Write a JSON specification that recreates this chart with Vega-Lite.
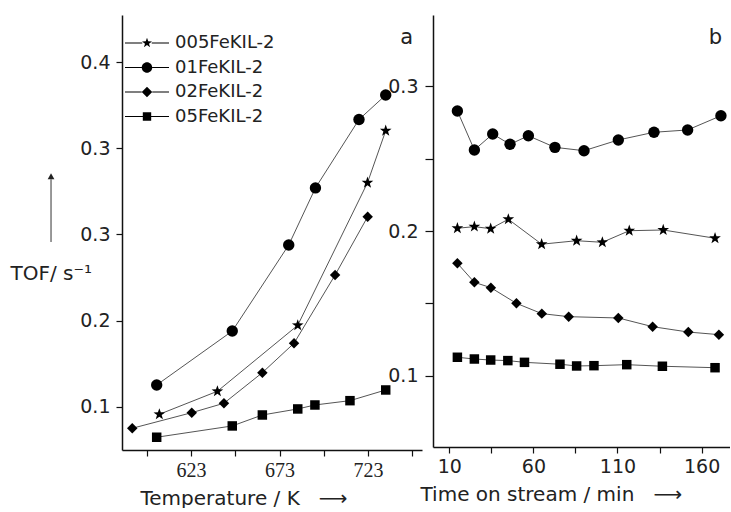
{
  "$schema": "https://vega.github.io/schema/vega-lite/v6.json",
  "autosize": {"type": "pad"},
  "padding": {"left": 10, "top": 15, "right": 0, "bottom": 0},
  "background": "white",
  "spacing": 11,
  "bounds": "flush",
  "config": {
    "view": {"stroke": null},
    "axis": {
      "grid": false, "domainColor": "#111", "domainWidth": 1.5, "tickColor": "#111", "tickWidth": 1.2, "tickSize": 6,
      "labelFont": "DejaVu Sans", "labelFontSize": 19, "labelColor": "#222", "labelPadding": 6,
      "titleFont": "DejaVu Sans", "titleFontSize": 20, "titleFontWeight": "normal", "titleColor": "#222",
      "labelFlush": false, "labelOverlap": false
    }
  },
  "datasets": {
    "tempData": [
      {"series": "005FeKIL-2", "T": 605.1, "TOF": 0.0915},
      {"series": "005FeKIL-2", "T": 637.9, "TOF": 0.1182},
      {"series": "005FeKIL-2", "T": 683.3, "TOF": 0.1947},
      {"series": "005FeKIL-2", "T": 722.7, "TOF": 0.360},
      {"series": "005FeKIL-2", "T": 733.0, "TOF": 0.4203},
      {"series": "01FeKIL-2", "T": 603.6, "TOF": 0.1255},
      {"series": "01FeKIL-2", "T": 646.3, "TOF": 0.188},
      {"series": "01FeKIL-2", "T": 678.2, "TOF": 0.2878},
      {"series": "01FeKIL-2", "T": 693.3, "TOF": 0.354},
      {"series": "01FeKIL-2", "T": 717.9, "TOF": 0.4333},
      {"series": "01FeKIL-2", "T": 733.0, "TOF": 0.4617},
      {"series": "02FeKIL-2", "T": 589.8, "TOF": 0.0753},
      {"series": "02FeKIL-2", "T": 623.4, "TOF": 0.0934},
      {"series": "02FeKIL-2", "T": 641.6, "TOF": 0.1043},
      {"series": "02FeKIL-2", "T": 663.3, "TOF": 0.1398},
      {"series": "02FeKIL-2", "T": 681.2, "TOF": 0.1739},
      {"series": "02FeKIL-2", "T": 704.4, "TOF": 0.253},
      {"series": "02FeKIL-2", "T": 722.8, "TOF": 0.3206},
      {"series": "05FeKIL-2", "T": 603.6, "TOF": 0.0649},
      {"series": "05FeKIL-2", "T": 646.3, "TOF": 0.078},
      {"series": "05FeKIL-2", "T": 663.3, "TOF": 0.0907},
      {"series": "05FeKIL-2", "T": 683.3, "TOF": 0.0977},
      {"series": "05FeKIL-2", "T": 693.0, "TOF": 0.1023},
      {"series": "05FeKIL-2", "T": 712.8, "TOF": 0.1073},
      {"series": "05FeKIL-2", "T": 733.0, "TOF": 0.1197}
    ],
    "timeData": [
      {"series": "01FeKIL-2", "t": 14.8, "TOF": 0.2828},
      {"series": "01FeKIL-2", "t": 24.9, "TOF": 0.2559},
      {"series": "01FeKIL-2", "t": 35.8, "TOF": 0.2669},
      {"series": "01FeKIL-2", "t": 46.1, "TOF": 0.2598},
      {"series": "01FeKIL-2", "t": 57.0, "TOF": 0.2657},
      {"series": "01FeKIL-2", "t": 72.8, "TOF": 0.2577},
      {"series": "01FeKIL-2", "t": 90.1, "TOF": 0.2554},
      {"series": "01FeKIL-2", "t": 110.5, "TOF": 0.2628},
      {"series": "01FeKIL-2", "t": 131.7, "TOF": 0.2681},
      {"series": "01FeKIL-2", "t": 151.7, "TOF": 0.2697},
      {"series": "01FeKIL-2", "t": 171.5, "TOF": 0.2795},
      {"series": "005FeKIL-2", "t": 14.8, "TOF": 0.2019},
      {"series": "005FeKIL-2", "t": 24.9, "TOF": 0.203},
      {"series": "005FeKIL-2", "t": 34.6, "TOF": 0.2016},
      {"series": "005FeKIL-2", "t": 45.1, "TOF": 0.2081},
      {"series": "005FeKIL-2", "t": 64.9, "TOF": 0.1909},
      {"series": "005FeKIL-2", "t": 85.7, "TOF": 0.1933},
      {"series": "005FeKIL-2", "t": 101.0, "TOF": 0.1922},
      {"series": "005FeKIL-2", "t": 117.0, "TOF": 0.2002},
      {"series": "005FeKIL-2", "t": 137.2, "TOF": 0.2007},
      {"series": "005FeKIL-2", "t": 168.0, "TOF": 0.195},
      {"series": "02FeKIL-2", "t": 14.8, "TOF": 0.1777},
      {"series": "02FeKIL-2", "t": 24.9, "TOF": 0.1646},
      {"series": "02FeKIL-2", "t": 34.7, "TOF": 0.1609},
      {"series": "02FeKIL-2", "t": 49.9, "TOF": 0.1501},
      {"series": "02FeKIL-2", "t": 65.0, "TOF": 0.143},
      {"series": "02FeKIL-2", "t": 81.0, "TOF": 0.1409},
      {"series": "02FeKIL-2", "t": 110.5, "TOF": 0.14},
      {"series": "02FeKIL-2", "t": 130.9, "TOF": 0.134},
      {"series": "02FeKIL-2", "t": 152.1, "TOF": 0.1303},
      {"series": "02FeKIL-2", "t": 170.3, "TOF": 0.1285},
      {"series": "05FeKIL-2", "t": 14.8, "TOF": 0.1129},
      {"series": "05FeKIL-2", "t": 24.9, "TOF": 0.1117},
      {"series": "05FeKIL-2", "t": 34.6, "TOF": 0.111},
      {"series": "05FeKIL-2", "t": 44.8, "TOF": 0.1106},
      {"series": "05FeKIL-2", "t": 54.7, "TOF": 0.1094},
      {"series": "05FeKIL-2", "t": 75.8, "TOF": 0.1081},
      {"series": "05FeKIL-2", "t": 85.7, "TOF": 0.1069},
      {"series": "05FeKIL-2", "t": 96.0, "TOF": 0.1071},
      {"series": "05FeKIL-2", "t": 115.5, "TOF": 0.1078},
      {"series": "05FeKIL-2", "t": 136.7, "TOF": 0.1067},
      {"series": "05FeKIL-2", "t": 168.0, "TOF": 0.1057}
    ]
  },
  "hconcat": [
    {
      "width": 300,
      "height": 435,
      "title": {"text": "a", "anchor": "end", "frame": "group", "fontSize": 21, "fontWeight": "normal", "font": "DejaVu Sans", "color": "#222", "dx": -9, "dy": 37},
      "layer": [
        {
          "data": {"name": "tempData"},
          "mark": {"type": "line", "color": "#555", "strokeWidth": 1},
          "encoding": {
            "x": {"field": "T", "type": "quantitative", "scale": {"domain": [584, 753.5], "nice": false, "zero": false},
              "axis": {"values": [598, 623, 648, 673, 698, 723, 748], "labelExpr": "datum.value % 50 == 23 ? format(datum.value, 'd') : ''", "labelFont": "Liberation Serif", "labelFontSize": 20, "labelPadding": 4, "title": "Temperature / K\u00a0\u00a0\u00a0⟶", "titleAlign": "left", "titleAnchor": "start", "titleX": 18, "titlePadding": 8}},
            "y": {"field": "TOF", "type": "quantitative", "scale": {"domain": [0.0501, 0.5545], "nice": false, "zero": false},
              "axis": {"values": [0.1, 0.2, 0.3, 0.4, 0.5], "labelExpr": "datum.value > 0.35 ? format(datum.value - 0.1, '.1f') : format(datum.value, '.1f')", "title": "TOF/ s⁻¹", "titleAngle": 0, "titleAlign": "left", "titleBaseline": "middle", "titleX": -112, "titleY": 258}},
            "detail": {"field": "series", "type": "nominal"}
          }
        },
        {
          "data": {"name": "tempData"},
          "mark": {"type": "point", "filled": true, "color": "black", "opacity": 1},
          "encoding": {
            "x": {"field": "T", "type": "quantitative"},
            "y": {"field": "TOF", "type": "quantitative"},
            "shape": {"field": "series", "type": "nominal", "legend": null,
              "scale": {"domain": ["005FeKIL-2", "01FeKIL-2", "02FeKIL-2", "05FeKIL-2"], "range": ["M0,-1L0.235,-0.324L0.951,-0.309L0.38,0.124L0.588,0.809L0,0.4L-0.588,0.809L-0.38,0.124L-0.951,-0.309L-0.235,-0.324Z", "circle", "diamond", "square"]}},
            "size": {"field": "series", "type": "nominal", "legend": null,
              "scale": {"domain": ["005FeKIL-2", "01FeKIL-2", "02FeKIL-2", "05FeKIL-2"], "range": [150, 90, 130, 81]}}
          }
        },
        {
          "data": {"name": "tempData"},
          "transform": [{"filter": "false"}],
          "mark": {"type": "point", "filled": true, "color": "black", "size": 110, "opacity": 1},
          "encoding": {
            "x": {"field": "T", "type": "quantitative"},
            "y": {"field": "TOF", "type": "quantitative"},
            "shape": {"field": "series", "type": "nominal",
              "scale": {"domain": ["005FeKIL-2", "01FeKIL-2", "02FeKIL-2", "05FeKIL-2"],
                "range": [
                  "M-4.2,-0.09H-0.9V0.09H-4.2ZM0.9,-0.09H4.2V0.09H0.9ZM0,-1L0.235,-0.324L0.951,-0.309L0.38,0.124L0.588,0.809L0,0.4L-0.588,0.809L-0.38,0.124L-0.951,-0.309L-0.235,-0.324Z",
                  "M-4.2,-0.09H-1V0.09H-4.2ZM1,-0.09H4.2V0.09H1ZM-1,0A1,1 0 1,0 1,0A1,1 0 1,0 -1,0Z",
                  "M-4.2,-0.09H-1V0.09H-4.2ZM1,-0.09H4.2V0.09H1ZM0,-1L1,0L0,1L-1,0Z",
                  "M-4.2,-0.09H-0.8V0.09H-4.2ZM0.8,-0.09H4.2V0.09H0.8ZM-0.8,-0.8H0.8V0.8H-0.8Z"
                ]},
              "legend": {"orient": "none", "legendX": 16, "legendY": 19, "title": null, "labelFontSize": 18, "labelFont": "DejaVu Sans", "labelColor": "#222", "symbolSize": 110, "labelOffset": 19, "rowPadding": 6.5,
                "symbolFillColor": "black", "symbolOpacity": 1}
            }
          }
        },
        {
          "data": {"values": [{}]},
          "mark": {"type": "rule", "color": "#333", "strokeWidth": 1},
          "encoding": {"x": {"datum": 543.9}, "y": {"datum": 0.2913}, "y2": {"datum": 0.364}}
        },
        {
          "data": {"values": [{}]},
          "mark": {"type": "point", "shape": "triangle-up", "filled": true, "color": "#222", "size": 45, "opacity": 1},
          "encoding": {"x": {"datum": 543.9}, "y": {"datum": 0.3675}}
        }
      ],
      "resolve": {"scale": {"shape": "independent", "size": "independent"}, "legend": {"shape": "independent"}}
    },
    {
      "width": 297,
      "height": 432,
      "title": {"text": "b", "anchor": "end", "frame": "group", "fontSize": 21, "fontWeight": "normal", "font": "DejaVu Sans", "color": "#222", "dx": -8, "dy": 37},
      "data": {"name": "timeData"},
      "encoding": {
        "x": {"field": "t", "type": "quantitative", "scale": {"domain": [0.3, 176.9], "nice": false, "zero": false},
          "axis": {"values": [10, 35, 60, 85, 110, 135, 160], "labelExpr": "(datum.value - 10) % 50 == 0 ? format(datum.value, 'd') : ''", "labelPadding": 4, "title": "Time on stream / min\u00a0\u00a0\u00a0⟶", "titleAlign": "left", "titleAnchor": "start", "titleX": -13, "titlePadding": 8}},
        "y": {"field": "TOF", "type": "quantitative", "scale": {"domain": [0.051, 0.349], "nice": false, "zero": false},
          "axis": {"values": [0.1, 0.15, 0.2, 0.25, 0.3], "labelExpr": "abs(datum.value * 10 - round(datum.value * 10)) < 0.01 ? format(datum.value, '.1f') : ''", "title": null, "tickSize": 8, "labelPadding": 7}}
      },
      "layer": [
        {
          "mark": {"type": "line", "color": "#555", "strokeWidth": 1},
          "encoding": {"detail": {"field": "series", "type": "nominal"}}
        },
        {
          "mark": {"type": "point", "filled": true, "color": "black", "opacity": 1},
          "encoding": {
            "shape": {"field": "series", "type": "nominal", "legend": null,
              "scale": {"domain": ["005FeKIL-2", "01FeKIL-2", "02FeKIL-2", "05FeKIL-2"], "range": ["M0,-1L0.235,-0.324L0.951,-0.309L0.38,0.124L0.588,0.809L0,0.4L-0.588,0.809L-0.38,0.124L-0.951,-0.309L-0.235,-0.324Z", "circle", "diamond", "square"]}},
            "size": {"field": "series", "type": "nominal", "legend": null,
              "scale": {"domain": ["005FeKIL-2", "01FeKIL-2", "02FeKIL-2", "05FeKIL-2"], "range": [150, 90, 130, 81]}}
          }
        }
      ]
    }
  ],
  "resolve": {"scale": {"shape": "independent", "size": "independent"}, "legend": {"shape": "independent", "size": "independent"}}
}
